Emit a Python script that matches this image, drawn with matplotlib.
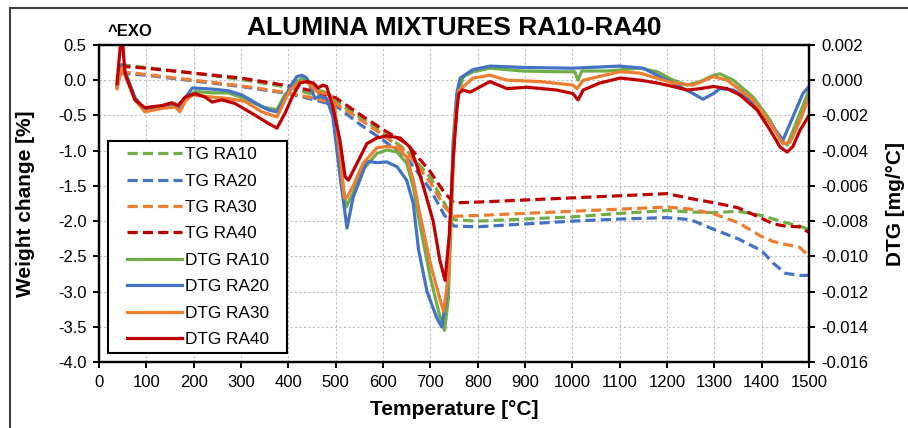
import matplotlib
matplotlib.use("Agg")
import matplotlib.pyplot as plt
from matplotlib.patches import Rectangle
from matplotlib.lines import Line2D
from matplotlib.legend_handler import HandlerLine2D

plt.rcParams['font.family'] = ['Liberation Sans', 'DejaVu Sans']

# ---- TG curves, weight change [%] ----
tg_temp = [45, 100, 200, 300, 400, 450, 500, 550, 600, 650, 700, 730, 750,
           800, 900, 1000, 1100, 1200, 1250, 1300, 1350, 1400, 1425, 1450, 1480, 1500]
tg_ra10 = [0.22, 0.18, 0.10, 0.01, -0.10, -0.20, -0.30, -0.52, -0.75, -1.00, -1.38, -1.75, -1.98,
           -2.00, -1.97, -1.94, -1.89, -1.85, -1.87, -1.88, -1.86, -1.92, -1.97, -2.02, -2.07, -2.12]
tg_ra20 = [0.10, 0.07, -0.01, -0.09, -0.19, -0.27, -0.36, -0.62, -0.85, -1.10, -1.55, -1.92, -2.07,
           -2.08, -2.04, -2.00, -1.97, -1.95, -1.98, -2.12, -2.25, -2.42, -2.60, -2.74, -2.77, -2.77]
tg_ra30 = [0.12, 0.08, 0.00, -0.08, -0.18, -0.25, -0.33, -0.55, -0.78, -1.02, -1.45, -1.80, -1.93,
           -1.92, -1.89, -1.86, -1.83, -1.80, -1.83, -1.90, -2.02, -2.22, -2.29, -2.33, -2.37, -2.50]
tg_ra40 = [0.20, 0.17, 0.10, 0.03, -0.08, -0.15, -0.25, -0.48, -0.70, -0.90, -1.30, -1.60, -1.74,
           -1.73, -1.70, -1.67, -1.64, -1.61, -1.68, -1.74, -1.81, -1.96, -2.04, -2.07, -2.08, -2.16]

# ---- DTG curves [mg/°C] ----
dtg_temp_ra10 = [38, 49, 59, 76, 97, 133, 161, 171, 182, 203, 239, 273, 308, 344, 376, 393, 404,
                 418, 431, 446, 460, 473, 488, 502, 512, 522, 537, 558, 587, 608, 630, 650, 664,
                 678, 700, 720, 730, 738, 745, 750, 758, 770, 790, 826, 896, 967, 1005, 1012,
                 1020, 1073, 1143, 1179, 1213, 1242, 1270, 1298, 1312, 1340, 1382, 1418, 1439,
                 1454, 1475, 1500]
dtg_ra10 = [-0.00032, 0.00088, 0.0002, -0.001, -0.00168, -0.00152, -0.00144, -0.00168, -0.00112,
            -0.00064, -0.00072, -0.00072, -0.00104, -0.00152, -0.00168, -0.0008, -0.00056,
            -0.00008, 0.00012, -0.00016, -0.00056, -0.00064, -0.00084, -0.00244, -0.0052, -0.0072,
            -0.0064, -0.00508, -0.00416, -0.00396, -0.00408, -0.00472, -0.00608, -0.0082, -0.0112,
            -0.0134, -0.0142, -0.0124, -0.0072, -0.0036, -0.0008, 0.0002, 0.00048, 0.00068,
            0.00052, 0.00048, 0.00048, 0.0, 0.00052, 0.00052, 0.00068, 0.00048, 0.0, -0.00028,
            -0.00008, 0.00028, 0.00036, 0.0, -0.00096, -0.00228, -0.0034, -0.00368, -0.00228,
            -0.00056]

dtg_temp_ra20 = [38, 49, 59, 76, 97, 133, 161, 171, 182, 197, 224, 245, 273, 302, 330, 357, 376,
                 393, 404, 418, 429, 439, 450, 456, 467, 481, 494, 510, 524, 537, 551, 566, 587,
                 608, 630, 650, 664, 675, 693, 714, 724, 735, 745, 748, 756, 763, 790, 826, 900,
                 1000, 1100, 1150, 1179, 1213, 1255, 1276, 1298, 1312, 1340, 1376, 1418, 1445,
                 1466, 1487, 1500]
dtg_ra20 = [-0.0004, 0.00088, 0.0002, -0.001, -0.00168, -0.00152, -0.00144, -0.00168, -0.00104,
            -0.00044, -0.00048, -0.00052, -0.0006, -0.00084, -0.00128, -0.00168, -0.0018,
            -0.00104, -0.00036, 0.0002, 0.00028, 0.00012, -0.00056, -0.00104, -0.00092, -0.00104,
            -0.00208, -0.0056, -0.0084, -0.00664, -0.00568, -0.0046, -0.00468, -0.00464, -0.00492,
            -0.00568, -0.007, -0.0096, -0.012, -0.01352, -0.014, -0.01212, -0.0064, -0.0036,
            -0.00072, 0.00012, 0.0006, 0.0008, 0.00072, 0.00068, 0.0008, 0.00068, 0.00028,
            -0.00016, -0.00076, -0.00108, -0.00076, -0.00048, -0.00056, -0.00112, -0.00244,
            -0.0034, -0.00208, -0.00076, -0.00036]

dtg_temp_ra30 = [38, 49, 59, 76, 97, 133, 161, 171, 182, 197, 239, 273, 308, 344, 376, 393, 404,
                 425, 439, 460, 488, 498, 508, 518, 523, 537, 558, 587, 608, 630, 650, 664, 678,
                 700, 720, 728, 738, 746, 752, 760, 790, 826, 862, 932, 1001, 1010, 1023, 1101,
                 1143, 1213, 1255, 1298, 1327, 1382, 1418, 1445, 1460, 1481, 1500]
dtg_ra30 = [-0.00048, 0.00072, 0.0, -0.00112, -0.0018, -0.0016, -0.00152, -0.0018, -0.0012,
            -0.00084, -0.00096, -0.00104, -0.0012, -0.0018, -0.00208, -0.00112, -0.00056,
            -0.00008, -0.00008, -0.00064, -0.00084, -0.00152, -0.004, -0.00668, -0.00668, -0.006,
            -0.00472, -0.00384, -0.00376, -0.00384, -0.00436, -0.00568, -0.0076, -0.0104, -0.0124,
            -0.01312, -0.0112, -0.006, -0.0024, -0.0006, 0.00012, 0.00028, 0.0, -0.00008,
            -0.00028, -0.00048, 0.0, 0.00048, 0.0004, -0.00016, -0.00028, 0.0002, 0.0, -0.00112,
            -0.00244, -0.0036, -0.00352, -0.00228, -0.00096]

dtg_temp_ra40 = [38, 48, 55, 76, 97, 133, 154, 167, 182, 203, 224, 239, 260, 287, 323, 357, 376,
                 393, 408, 425, 439, 453, 463, 473, 481, 494, 509, 520, 527, 545, 566, 587, 608,
                 636, 657, 671, 685, 706, 720, 731, 740, 748, 756, 760, 769, 784, 826, 862, 904,
                 967, 1001, 1012, 1023, 1058, 1101, 1143, 1179, 1213, 1242, 1270, 1298, 1327, 1354,
                 1390, 1418, 1439, 1454, 1466, 1481, 1500]
dtg_ra40 = [-0.0002, 0.0028, 0.0004, -0.00112, -0.00156, -0.00144, -0.00128, -0.00144, -0.00096,
            -0.00076, -0.00096, -0.00124, -0.00112, -0.00132, -0.00188, -0.00244, -0.00272,
            -0.00188, -0.00096, -0.00016, -0.00008, -0.00016, -0.00044, -0.00028, -0.00036,
            -0.00152, -0.0034, -0.00548, -0.00568, -0.00472, -0.0036, -0.00328, -0.00316,
            -0.00328, -0.0038, -0.0048, -0.006, -0.008, -0.0102, -0.01136, -0.0088, -0.00452,
            -0.00168, -0.00076, -0.00056, -0.00068, -0.00008, -0.00048, -0.0004, -0.00056,
            -0.00076, -0.00112, -0.00056, -0.00016, 0.00012, 0.0, -0.00016, -0.00036, -0.00056,
            -0.00048, -0.00036, -0.00048, -0.00084, -0.00168, -0.00284, -0.0038, -0.00408,
            -0.00376, -0.00284, -0.002]

left_ticks = [0.5, 0.0, -0.5, -1.0, -1.5, -2.0, -2.5, -3.0, -3.5, -4.0]
right_ticks = [0.002, 0.0, -0.002, -0.004, -0.006, -0.008, -0.010, -0.012, -0.014, -0.016]

green = '#70AD47'
blue = '#4472C4'
orange = '#ED7D31'
red = '#C00000'

fig = plt.figure(figsize=(9.08, 4.28), dpi=100)
ax = fig.add_axes([0.109, 0.154, 0.782, 0.741])
ax2 = ax.twinx()

lw = 2.3
dash = (3.2, 1.6)
lines = []
lines += ax.plot(tg_temp, tg_ra10, color=green, lw=lw, dashes=dash, label='TG RA10')
lines += ax.plot(tg_temp, tg_ra20, color=blue, lw=lw, dashes=dash, label='TG RA20')
lines += ax.plot(tg_temp, tg_ra30, color=orange, lw=lw, dashes=dash, label='TG RA30')
lines += ax.plot(tg_temp, tg_ra40, color=red, lw=lw, dashes=dash, label='TG RA40')

lines += ax2.plot(dtg_temp_ra10, dtg_ra10, color=green, lw=lw, label='DTG RA10')
lines += ax2.plot(dtg_temp_ra20, dtg_ra20, color=blue, lw=lw, label='DTG RA20')
lines += ax2.plot(dtg_temp_ra30, dtg_ra30, color=orange, lw=lw, label='DTG RA30')
lines += ax2.plot(dtg_temp_ra40, dtg_ra40, color=red, lw=lw, label='DTG RA40')

ax.set_xlim(0, 1500)
ax.set_ylim(-4.0, 0.5)
ax2.set_ylim(-0.016, 0.002)
ax.set_xticks(range(0, 1501, 100))
ax.set_yticks(left_ticks)
ax.set_yticklabels([f'{v:.1f}' for v in left_ticks])
ax2.set_yticks(right_ticks)
ax2.set_yticklabels([f'{v:.3f}' for v in right_ticks])

ax.grid(True, color='#BFBFBF', linestyle=(0, (2, 2)), linewidth=0.8)
ax.set_axisbelow(True)

for a in (ax, ax2):
    for s in a.spines.values():
        s.set_linewidth(1.6)
        s.set_color('black')
    a.tick_params(direction='out', length=4, width=1.4, labelsize=12, pad=5, colors='black')

ax.set_xlabel('Temperature [°C]', fontsize=15, fontweight='bold')
ax.set_ylabel('Weight change [%]', fontsize=15, fontweight='bold')
ax2.set_ylabel('DTG [mg/°C]', fontsize=15, fontweight='bold')
ax.xaxis.set_label_coords(0.5, -0.118)
ax.yaxis.set_label_coords(-0.09, 0.5)
ax2.yaxis.set_label_coords(1.108, 0.5)

fig.text(0.5, 0.935, 'ALUMINA MIXTURES RA10-RA40', ha='center', va='center',
         fontsize=19, fontweight='bold')
fig.text(0.119, 0.926, '^EXO', ha='left', va='center', fontsize=12, fontweight='bold')

# legend: handles pushed in from the frame like the Excel legend
leg = ax2.legend(lines, [l.get_label() for l in lines], loc='lower left',
                 bbox_to_anchor=(0.0127, 0.028, 0.252, 0.666), mode='expand',
                 borderaxespad=0, fontsize=12.4, handlelength=3.95, labelspacing=0.66,
                 borderpad=0.35, handletextpad=0.15, fancybox=False, framealpha=1,
                 edgecolor='black', handler_map={Line2D: HandlerLine2D(xpad=0.75)})
leg.get_frame().set_linewidth(1.5)

fig.patches.append(Rectangle((10 / 908, -0.1), 1.0, 1.1 - 8 / 428, transform=fig.transFigure,
                             fill=False, edgecolor='#404040', linewidth=1.5))

fig.savefig('out.png', dpi=100)
